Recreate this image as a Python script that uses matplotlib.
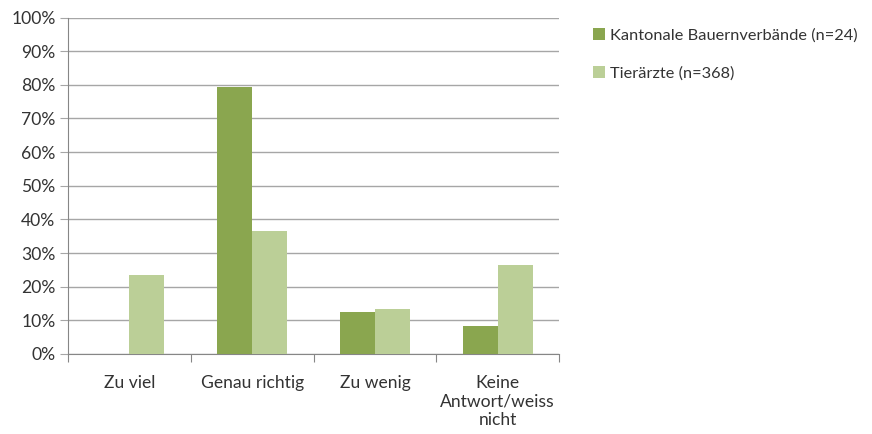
import matplotlib
matplotlib.use("Agg")
import matplotlib.pyplot as plt
import numpy as np
from matplotlib.patches import Patch

categories = ["Zu viel", "Genau richtig", "Zu wenig", "Keine\nAntwort/weiss\nnicht"]
series_names = ["Kantonale Bauernverbände (n=24)", "Tierärzte (n=368)"]
bauernverbaende = [0.0, 79.2, 12.5, 8.3]
tieraerzte = [23.6, 36.7, 13.3, 26.4]
yticks = [0, 10, 20, 30, 40, 50, 60, 70, 80, 90, 100]
ytick_labels = [f"{v}%" for v in yticks]

colors = ["#8AA64F", "#BBCF97"]
plt.rcParams['font.family'] = ['Lato', 'DejaVu Sans']
FS = 12.6

fig = plt.figure(figsize=(8.72, 4.34), dpi=100)
W, H = 872, 434
ax = fig.add_axes([68 / W, 1 - 354 / H, (559 - 68) / W, (354 - 17.5) / H])

x = np.arange(len(categories))
w = 1 / 3.5
ax.bar(x - w / 2, bauernverbaende, width=w, color=colors[0], zorder=3)
ax.bar(x + w / 2, tieraerzte, width=w, color=colors[1], zorder=3)

ax.set_xlim(-0.5, len(categories) - 0.5)
ax.set_ylim(0, 100)
ax.set_yticks(yticks)
ax.set_yticklabels(ytick_labels, fontsize=FS, color="#333333")
ax.yaxis.grid(True, color="#A6A6A6", linewidth=1.0, zorder=0)
ax.tick_params(axis='y', length=6, color="#A6A6A6", pad=3)

ax.set_xticks(np.arange(len(categories) + 1) - 0.5, minor=False)
ax.set_xticklabels([])
ax.tick_params(axis='x', length=6, color="#868686", which='major')
ax.set_xticks(x, minor=True)
ax.set_xticklabels(categories, minor=True, fontsize=FS, color="#333333", linespacing=1.2)
ax.tick_params(axis='x', which='minor', length=0, pad=15)

for s in ["top", "right"]:
    ax.spines[s].set_visible(False)
ax.spines["left"].set_color("#868686")
ax.spines["bottom"].set_color("#868686")

handles = [Patch(facecolor=c, edgecolor='none') for c in colors]
fig.legend(handles, series_names, loc="upper left", bbox_to_anchor=(593 / W, 1 - 28 / H),
           frameon=False, fontsize=11.8, handlelength=0.75, handleheight=0.75,
           labelspacing=1.45, handletextpad=0.3, labelcolor="#333333",
           borderpad=0, borderaxespad=0)

fig.savefig("out.png", dpi=100)
